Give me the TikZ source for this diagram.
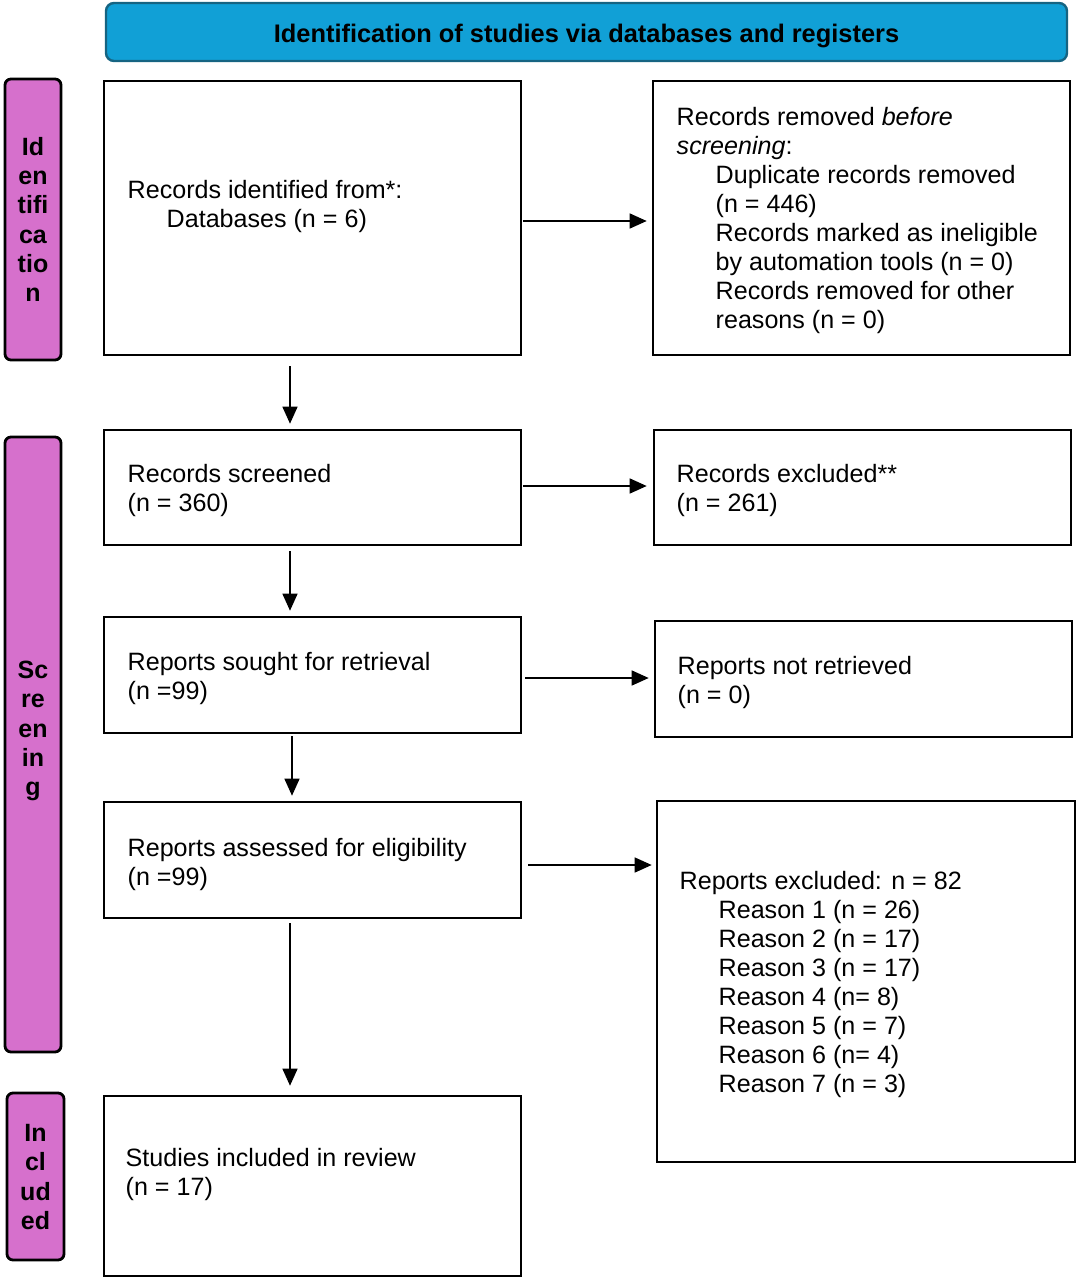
\documentclass[tikz,border=0pt]{standalone}
\usepackage{fontspec}
\setmainfont{Liberation Sans}
\usetikzlibrary{arrows.meta,calc}
\definecolor{hdrblue}{RGB}{17,160,214}
\definecolor{hdredge}{RGB}{22,100,130}
\definecolor{sidepink}{RGB}{214,112,204}
\tikzset{
  box/.style={draw=black, line width=2.6pt, fill=white, inner sep=0pt},
  sidebox/.style={draw=black, line width=2.8pt, fill=sidepink, rounded corners=6pt, inner sep=0pt},
  sidetext/.style={font=\fontsize{25}{29.2}\selectfont\bfseries, align=center, inner sep=0pt},
  txt/.style={font=\fontsize{25.1}{29}\selectfont, align=left, anchor=north west, inner sep=0pt},
  arr/.style={line width=1.4pt, -{Triangle[length=17pt,width=15pt]}}
}
\newcommand{\ind}{\hspace*{39pt}}
\begin{document}
\begin{tikzpicture}[x=1pt,y=-1pt]
\useasboundingbox (0,0) rectangle (1079,1280);
% header
\node[draw=hdredge, line width=2.4pt, fill=hdrblue, rounded corners=8pt,
      minimum width=961pt, minimum height=58pt, inner sep=0pt] (hdr) at (586.5,32) {};
\node[font=\fontsize{25.4}{29}\selectfont\bfseries, inner sep=0pt] (hdrt) at (586.5,36)
      {Identification of studies via databases and registers};
% side bars
\node[sidebox, minimum width=56pt, minimum height=281pt] (s1) at (33,219.5) {};
\node[sidetext] (s1t) at (33,219.5) {Id\\en\\tifi\\ca\\tio\\n};
\node[sidebox, minimum width=56pt, minimum height=615pt] (s2) at (33,744.5) {};
\node[sidetext] (s2t) at (33,731) {Sc\\re\\en\\in\\g};
\node[sidebox, minimum width=57pt, minimum height=167pt] (s3) at (35.5,1176.5) {};
\node[sidetext] (s3t) at (35.5,1177) {In\\cl\\ud\\ed};
% boxes
\node[box, minimum width=417pt, minimum height=274pt] (b1) at (312.5,218) {};
\node[box, minimum width=417pt, minimum height=274pt] (b2) at (861.5,218) {};
\node[box, minimum width=417pt, minimum height=115pt] (b3) at (312.5,487.5) {};
\node[box, minimum width=417pt, minimum height=115pt] (b4) at (862.5,487.5) {};
\node[box, minimum width=417pt, minimum height=116pt] (b5) at (312.5,675) {};
\node[box, minimum width=417pt, minimum height=116pt] (b6) at (863.5,679) {};
\node[box, minimum width=417pt, minimum height=116pt] (b7) at (312.5,860) {};
\node[box, minimum width=418pt, minimum height=361pt] (b8) at (866,981.5) {};
\node[box, minimum width=417pt, minimum height=180pt] (b9) at (312.5,1186) {};
% texts
\node[txt] (t1) at (127.5,180) {Records identified from*:\\\ind Databases (n = 6)};
\node[txt] (t2) at (676.5,107.5) {Records removed \textit{before}\\\textit{screening}:\\
  \ind Duplicate records removed\\\ind (n = 446)\\\ind Records marked as ineligible\\
  \ind by automation tools (n = 0)\\\ind Records removed for other\\\ind reasons (n = 0)};
\node[txt] (t3) at (127.5,464) {Records screened\\(n = 360)};
\node[txt] (t4) at (676.5,464) {Records excluded**\\(n = 261)};
\node[txt] (t5) at (127.5,652) {Reports sought for retrieval\\(n =99)};
\node[txt] (t6) at (677.5,656) {Reports not retrieved\\(n = 0)};
\node[txt] (t7) at (127.5,838) {Reports assessed for eligibility\\(n =99)};
\node[txt] (t8) at (679.5,871) {Reports excluded: n = 82\\\ind Reason 1 (n = 26)\\\ind Reason 2 (n = 17)\\
  \ind Reason 3 (n = 17)\\\ind Reason 4 (n= 8)\\\ind Reason 5 (n = 7)\\\ind Reason 6 (n= 4)\\\ind Reason 7 (n = 3)};
\node[txt] (t9) at (125.5,1148) {Studies included in review\\(n = 17)};
% connectors
\coordinate (c1) at (290,0);
\coordinate (c2) at (292,0);
\draw[arr, shorten <=1pt, shorten >=5pt] ($(b1.east)+(0,3)$) -- ($(b2.west)+(0,3)$);
\draw[arr, shorten <=1pt, shorten >=6pt] ($(b3.east)+(0,-1.5)$) -- ($(b4.west)+(0,-1.5)$);
\draw[arr, shorten <=3pt, shorten >=5pt] ($(b5.east)+(0,3)$) -- ($(b6.west)+(0,-1)$);
\draw[arr, shorten <=6pt, shorten >=4pt] (b7.east |- 0,865) coordinate (a7) -- (b8.west |- a7);
\draw[arr, shorten <=10pt, shorten >=5pt] (b1.south -| c1) -- (b3.north -| c1);
\draw[arr, shorten <=5pt, shorten >=5pt] (b3.south -| c1) -- (b5.north -| c1);
\draw[arr, shorten <=2pt, shorten >=5pt] (b5.south -| c2) -- (b7.north -| c2);
\draw[arr, shorten <=4pt, shorten >=9pt] (b7.south -| c1) -- (b9.north -| c1);
\end{tikzpicture}
\end{document}
